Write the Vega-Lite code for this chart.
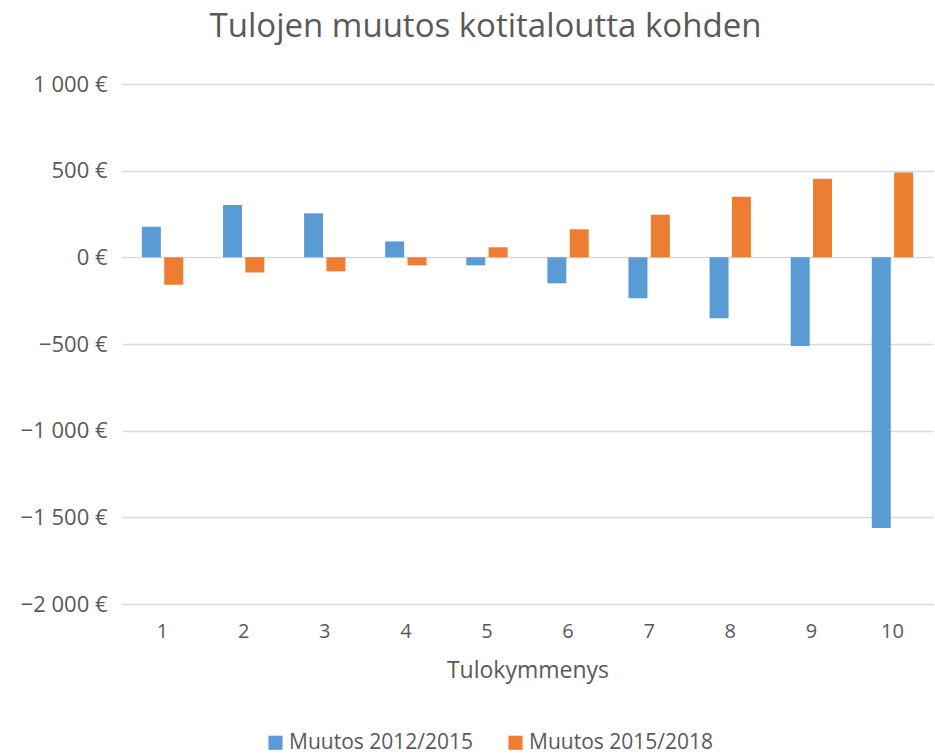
{
  "$schema": "https://vega.github.io/schema/vega-lite/v6.json",
  "width": 811,
  "height": 520,
  "autosize": {"type": "none"},
  "padding": {"left": 122, "top": 84, "right": 2, "bottom": 151},
  "background": "white",
  "title": {
    "text": "Tulojen muutos kotitaloutta kohden",
    "font": "Open Sans",
    "fontSize": 33,
    "fontWeight": "normal",
    "color": "#595959",
    "anchor": "middle",
    "frame": "group",
    "dx": -42,
    "offset": 29
  },
  "data": {
    "values": [
      {"d": "1", "s": "Muutos 2012/2015", "v": 177},
      {"d": "1", "s": "Muutos 2015/2018", "v": -158},
      {"d": "2", "s": "Muutos 2012/2015", "v": 302},
      {"d": "2", "s": "Muutos 2015/2018", "v": -87},
      {"d": "3", "s": "Muutos 2012/2015", "v": 254},
      {"d": "3", "s": "Muutos 2015/2018", "v": -81},
      {"d": "4", "s": "Muutos 2012/2015", "v": 92},
      {"d": "4", "s": "Muutos 2015/2018", "v": -46},
      {"d": "5", "s": "Muutos 2012/2015", "v": -46},
      {"d": "5", "s": "Muutos 2015/2018", "v": 58},
      {"d": "6", "s": "Muutos 2012/2015", "v": -150},
      {"d": "6", "s": "Muutos 2015/2018", "v": 162},
      {"d": "7", "s": "Muutos 2012/2015", "v": -236},
      {"d": "7", "s": "Muutos 2015/2018", "v": 246},
      {"d": "8", "s": "Muutos 2012/2015", "v": -352},
      {"d": "8", "s": "Muutos 2015/2018", "v": 350},
      {"d": "9", "s": "Muutos 2012/2015", "v": -511},
      {"d": "9", "s": "Muutos 2015/2018", "v": 454},
      {"d": "10", "s": "Muutos 2012/2015", "v": -1561},
      {"d": "10", "s": "Muutos 2015/2018", "v": 489}
    ]
  },
  "mark": {"type": "bar"},
  "encoding": {
    "x": {
      "field": "d",
      "type": "ordinal",
      "sort": ["1", "2", "3", "4", "5", "6", "7", "8", "9", "10"],
      "scale": {"paddingInner": 0.49, "paddingOuter": 0.245},
      "axis": {
        "title": "Tulokymmenys",
        "labelAngle": 0,
        "domain": false,
        "ticks": false,
        "labelPadding": 17,
        "labelFont": "Open Sans",
        "labelFontSize": 20,
        "labelColor": "#595959",
        "titleFont": "Open Sans",
        "titleFontSize": 23,
        "titleFontWeight": "normal",
        "titleColor": "#595959",
        "titlePadding": 18
      }
    },
    "xOffset": {
      "field": "s",
      "type": "nominal",
      "scale": {"paddingInner": 0.15, "paddingOuter": 0}
    },
    "y": {
      "field": "v",
      "type": "quantitative",
      "scale": {"domain": [-2000, 1000], "nice": false},
      "axis": {
        "title": null,
        "values": [-2000, -1500, -1000, -500, 0, 500, 1000],
        "labelExpr": "replace(format(datum.value, ','), ',', ' ') + ' €'",
        "domain": false,
        "ticks": false,
        "labelPadding": 15,
        "labelFont": "Open Sans",
        "labelFontSize": 22,
        "labelColor": "#595959",
        "gridColor": "#d9d9d9",
        "gridWidth": 1.5
      }
    },
    "color": {
      "field": "s",
      "type": "nominal",
      "scale": {"domain": ["Muutos 2012/2015", "Muutos 2015/2018"], "range": ["#5B9BD5", "#ED7D31"]},
      "legend": {
        "title": null,
        "orient": "none",
        "direction": "horizontal",
        "legendX": 143,
        "legendY": 648,
        "symbolType": "square",
        "symbolSize": 200,
        "symbolStrokeWidth": 0,
        "labelFont": "Open Sans",
        "labelFontSize": 21,
        "labelLimit": 0,
        "labelColor": "#595959",
        "labelOffset": 3,
        "columnPadding": 32
      }
    }
  },
  "config": {
    "view": {"stroke": null}
  }
}
